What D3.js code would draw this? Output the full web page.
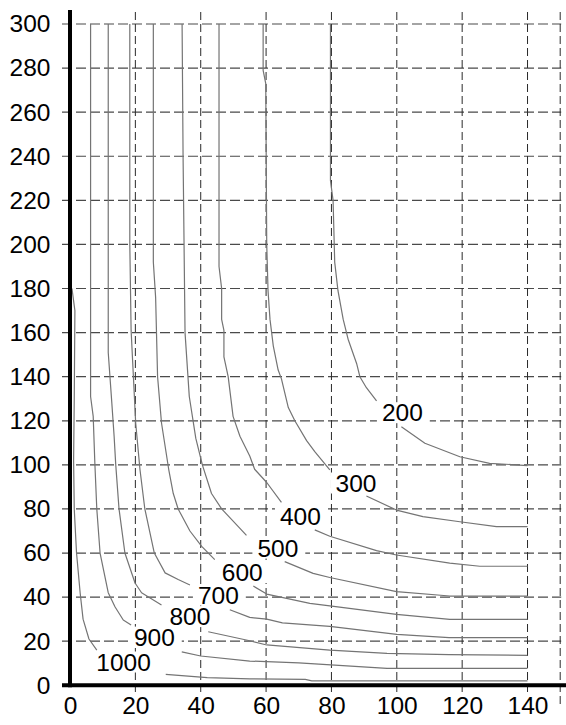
<!DOCTYPE html>
<html>
<head>
<meta charset="utf-8">
<script src="https://cdn.jsdelivr.net/npm/d3@7"></script>
<style>
  html, body { margin: 0; padding: 0; background: #fff; }
  svg { display: block; }
</style>
</head>
<body>
<svg id="chart" width="566" height="725"></svg>
<script>
// Tick labels and grid positions
const xTicks = [0, 20, 40, 60, 80, 100, 120, 140];
const yTicks = [0, 20, 40, 60, 80, 100, 120, 140, 160, 180, 200, 220, 240, 260, 280, 300];
const xGridValues = [20, 40, 60, 80, 100, 120, 140, 150];
const yGridValues = [20, 40, 60, 80, 100, 120, 140, 160, 180, 200, 220, 240, 260, 280, 300];

// Contour levels, each traced as [x, y] points; null marks the gap left for its label
const levels = [1000, 900, 800, 700, 600, 500, 400, 300, 200];

const contour1000 = [[0.6,180],[1.5,170],[1.3,130],[1.1,102],[1.3,80],[2.0,60],[3.1,42],[4.0,30],[5.8,21],[8.2,16],
  null, [29.3,5.0],[42,3.5],[55,2.9],[72,2.7],[74,2.0],[140,2.0]];
const contour900 = [[6.3,300],[6.3,131],[7.1,122],[7.6,101],[8.2,80],[9.2,60],[11.7,42],[13.8,35.5],[16.3,29.6],[18.7,27.4],
  null, [34.2,15.2],[40,13.3],[55,11.0],[70,10.2],[97,7.7],[140,7.7]];
const contour800 = [[11.7,300],[11.7,151],[12.8,128],[13.5,113],[14.0,100],[15,80],[16.8,60],[19.9,46.4],[21.9,42],[28,36.4],
  null, [42.3,24.3],[55,20.2],[60.2,18.3],[79.5,16],[97,14.5],[116,13.9],[140,13.6]];
const contour700 = [[18.3,300],[18.3,200],[18.7,161],[19.4,140],[20.1,119],[21.4,98],[22.9,80],[25.8,60],[29.1,51],[33.1,48],[36.7,45.5],
  null, [48.9,34.3],[55,30.8],[60.2,30.0],[65,28.3],[79.5,26.7],[100,23.1],[116,21.6],[140,21.6]];
const contour600 = [[25.5,300],[25.5,192],[26.2,176],[26.8,140],[28,119],[30.2,98],[31.6,87],[33.1,80],[36.7,70],[40.3,63],[44.3,57],
  null, [56.1,45],[60.2,41.4],[73.4,37.2],[79.5,36],[99.9,32.2],[116.2,29.9],[140,29.9]];
const contour500 = [[34.3,300],[34.6,240],[35.2,160],[36.5,131],[38.5,112],[40.5,100],[43.3,87],[46.4,80],[51.5,72],[54,68],
  null, [65.7,56.1],[74.4,50.8],[79.5,48.9],[99.9,42.5],[116.2,40.5],[140,40.5]];
const contour400 = [[45.6,300],[45.6,190],[46.4,180],[46.4,166],[47.1,161],[47.1,149],[48.4,140],[49.9,122],[52,113],[55,104],[56.5,98],[60.2,92],[64.7,83],
  null, [74.9,70.5],[79.5,67.6],[93.8,61.1],[99.9,59.1],[116.2,55.4],[125.4,54],[140,54]];
const contour300 = [[59.1,300],[59.1,279],[59.9,273],[60.2,200],[60.6,179],[61.2,166],[62.2,154],[63.7,143],[64.7,139],[66.8,126],[68.8,120],[72.4,111],[74.9,106],[79.5,97.7],
  null, [90.7,85.9],[99.9,79.5],[108,76.5],[119.3,74.2],[130.5,72],[140,72]];
const contour200 = [[79.7,300],[79.7,229],[80.5,220],[81,192],[82,179],[83.6,166],[85.1,157],[87.7,146],[88.7,140],[90.7,135],[93.8,129],
  null, [101.4,117.3],[108.6,109.8],[119.3,103.7],[128.4,100.7],[140,99.7]];

// Where each level's label sits (data units)
const labelX = [16.4, 25.8, 36.7, 45.4, 52.7, 63.6, 70.5, 87.5, 101.7];
const labelY = [10.6, 21.9, 31.2, 41.0, 51.2, 62.3, 76.6, 91.8, 123.7];

const contours = [contour1000, contour900, contour800, contour700, contour600,
                  contour500, contour400, contour300, contour200];

const FONT = '"Liberation Sans", Arial, Helvetica, sans-serif';
const FONT_SIZE = 24.5;

const svg = d3.select('#chart');
svg.append('rect').attr('width', 566).attr('height', 725).attr('fill', '#fff');

const x = d3.scaleLinear().domain([0, 150]).range([70, 560.2]);
const y = d3.scaleLinear().domain([0, 300]).range([685.3, 24]);

// Dashed grid
const grid = svg.append('g').attr('class', 'grid');
grid.selectAll('line.h').data(yGridValues).join('line')
  .attr('class', 'h')
  .attr('x1', 62).attr('x2', x(150) + 1)
  .attr('y1', d => y(d)).attr('y2', d => y(d))
  .attr('stroke', '#4a4a4a').attr('stroke-width', 1.2)
  .attr('stroke-dasharray', '10,4');
grid.selectAll('line.v').data(xGridValues).join('line')
  .attr('class', 'v')
  .attr('x1', d => x(d)).attr('x2', d => x(d))
  .attr('y1', 12).attr('y2', d => d === 150 ? 707 : 694)
  .attr('stroke', '#2a2a2a').attr('stroke-width', 1)
  .attr('stroke-dasharray', '8,4');

// Contour lines
const line = d3.line()
  .defined(d => d !== null)
  .x(d => x(d[0]))
  .y(d => y(d[1]));

svg.append('g').attr('class', 'contours')
  .selectAll('path').data(contours).join('path')
  .attr('d', line)
  .attr('fill', 'none')
  .attr('stroke', '#747474')
  .attr('stroke-width', 1.2)
  .attr('stroke-linejoin', 'round');

// Contour labels on white backing
const labels = svg.append('g').attr('class', 'labels')
  .selectAll('g').data(levels).join('g')
  .attr('transform', (d, i) => `translate(${x(labelX[i])},${y(labelY[i])})`);

labels.append('text')
  .attr('text-anchor', 'middle')
  .attr('dy', '0.35em')
  .attr('font-family', FONT)
  .attr('font-size', FONT_SIZE)
  .attr('fill', '#000')
  .text(d => d);

labels.each(function() {
  const g = d3.select(this);
  const bb = g.select('text').node().getBBox();
  g.insert('rect', 'text')
    .attr('x', bb.x - 5).attr('y', bb.y + 3)
    .attr('width', bb.width + 12).attr('height', bb.height - 6)
    .attr('fill', '#fff');
});

// Axes: tick labels from d3 axes, heavy black axis lines
const yAxis = svg.append('g')
  .attr('transform', `translate(${x(0)},0)`)
  .call(d3.axisLeft(y).tickValues(yTicks).tickSize(0).tickPadding(19.5));
const xAxis = svg.append('g')
  .attr('transform', `translate(0,${y(0)})`)
  .call(d3.axisBottom(x).tickValues(xTicks).tickSize(0).tickPadding(11));

[yAxis, xAxis].forEach(a => {
  a.select('.domain').remove();
  a.selectAll('text')
    .attr('font-family', FONT)
    .attr('font-size', FONT_SIZE)
    .attr('fill', '#000');
});

svg.append('line')
  .attr('x1', x(0)).attr('x2', x(0))
  .attr('y1', 10).attr('y2', y(0) + 2)
  .attr('stroke', '#000').attr('stroke-width', 4);
svg.append('line')
  .attr('x1', 62).attr('x2', 566)
  .attr('y1', y(0)).attr('y2', y(0))
  .attr('stroke', '#000').attr('stroke-width', 4);
</script>
</body>
</html>
